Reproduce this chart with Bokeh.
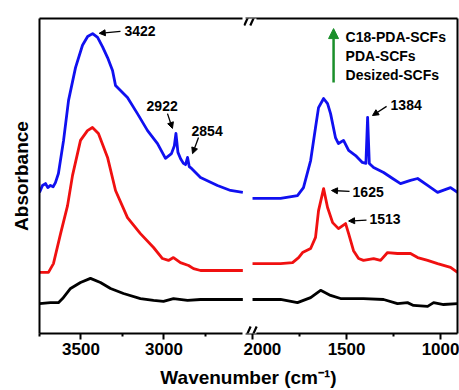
from bokeh.plotting import figure
from bokeh.layouts import row, column
from bokeh.models import Range1d, LinearAxis, FixedTicker, Label, Arrow, NormalHead, BoxAnnotation
from bokeh.embed import file_html
from bokeh.resources import INLINE

# ---------------- data (wavenumber in cm-1, absorbance in a.u., curves stacked) -------------
series_names = ["C18-PDA-SCFs", "PDA-SCFs", "Desized-SCFs"]
series_colors = ["#1010f0", "#f01010", "#000000"]

# high-wavenumber panel (3750 - 2500)
blue_left_wn = [3750, 3732, 3714, 3700, 3684, 3668, 3654, 3636, 3605, 3575, 3533, 3491, 3460,
                3430, 3400, 3370, 3340, 3310, 3292, 3220, 3160, 3099, 3039, 2991, 2955, 2938,
                2928, 2916, 2900, 2883, 2870, 2858, 2848, 2834, 2780, 2678, 2599, 2525]
blue_left = [44.8, 47.0, 47.6, 46.3, 47.0, 46.6, 47.9, 50.8, 61.3, 74.0, 84.4, 91.5, 94.3,
             95.2, 94.0, 91.0, 87.6, 83.5, 78.7, 74.9, 69.8, 64.4, 60.3, 55.6, 57.1, 59.5,
             63.5, 57.5, 55.5, 54.0, 53.6, 55.9, 53.0, 52.4, 49.5, 47.0, 45.4, 44.8]

red_left_wn = [3750, 3696, 3666, 3623, 3581, 3551, 3503, 3461, 3431, 3395, 3340, 3292, 3220,
               3142, 3063, 3009, 2973, 2943, 2901, 2852, 2822, 2780, 2700, 2600, 2525]
red_left = [19.4, 19.4, 22.2, 31.7, 40.6, 50.2, 61.3, 64.4, 65.4, 63.5, 55.9, 45.4, 36.8,
            31.7, 27.3, 23.8, 23.2, 24.1, 22.5, 21.6, 20.6, 20.0, 20.0, 20.0, 20.0]

black_left_wn = [3750, 3684, 3636, 3611, 3563, 3503, 3443, 3383, 3322, 3244, 3142, 3063, 3003,
                 2943, 2858, 2780, 2650, 2525]
black_left = [9.5, 9.8, 9.8, 11.1, 14.3, 16.2, 17.5, 16.2, 14.3, 12.7, 11.1, 10.5, 10.2,
              11.1, 10.5, 10.8, 10.8, 10.8]

# low-wavenumber panel (2000 - 910)
blue_right_wn = [2000, 1941, 1851, 1761, 1729, 1691, 1665, 1649, 1622, 1601, 1585, 1559, 1543,
                 1516, 1489, 1452, 1416, 1397, 1388, 1379, 1356, 1303, 1255, 1213, 1160, 1122,
                 1069, 1016, 947, 910]
blue_right = [42.9, 42.9, 42.9, 43.8, 46.3, 54.9, 65.4, 71.7, 74.6, 73.0, 69.8, 62.2, 60.3,
              61.3, 58.1, 56.5, 54.3, 54.0, 68.6, 54.0, 52.7, 51.1, 49.2, 47.6, 48.6, 49.2,
              47.0, 44.8, 46.3, 44.8]

red_right_wn = [2000, 1941, 1851, 1787, 1755, 1734, 1691, 1665, 1649, 1622, 1601, 1574, 1543,
                1505, 1489, 1463, 1436, 1410, 1356, 1319, 1282, 1229, 1160, 1122, 1069, 1016,
                947, 910]
red_right = [22.2, 22.2, 22.2, 22.5, 24.1, 25.7, 27.0, 30.5, 39.0, 46.0, 40.0, 35.2, 33.3,
             34.9, 31.7, 26.3, 23.8, 23.2, 23.8, 23.2, 25.7, 25.4, 25.4, 24.1, 23.2, 22.2,
             21.0, 19.4]

black_right_wn = [2000, 1851, 1761, 1691, 1638, 1585, 1532, 1410, 1303, 1229, 1176, 1144, 1069,
                  1037, 984, 910]
black_right = [10.8, 10.8, 9.8, 11.4, 13.7, 12.1, 11.1, 11.1, 10.8, 9.5, 9.8, 8.9, 8.6,
               9.8, 9.2, 9.5]

left_ticks = [3500, 3000]
left_minor = [3750, 3250, 2750]
right_ticks = [2000, 1500, 1000]
right_minor = [1750, 1250]
tick_labels = {3500: "3500", 3000: "3000", 2000: "2000", 1500: "1500", 1000: "1000"}

# peak annotations: text, panel, text x, text y, arrow start (x, y), arrow end (x, y)
peaks = [
    ("3422", "L", 3238, 96.0, (3262, 95.9), (3390, 95.3)),
    ("2922", "L", 3105, 72.1, (2979, 69.8), (2949, 65.1)),
    ("2854", "L", 2834, 64.4, (2792, 62.2), (2828, 57.1)),
    ("1384", "R", 1266, 72.4, (1287, 72.1), (1362, 69.2)),
    ("1625", "R", 1468, 44.8, (1484, 45.1), (1580, 45.4)),
    ("1513", "R", 1378, 36.2, (1394, 36.0), (1489, 35.7)),
]

FONT = "Liberation Sans"


def make_axis(ticks, minor, bounds=None, labels=True):
    ax = LinearAxis(ticker=FixedTicker(ticks=ticks, minor_ticks=minor))
    if bounds is not None:
        ax.bounds = bounds
    ax.axis_line_width = 2
    ax.axis_line_color = "black"
    ax.major_tick_line_width = 2
    ax.minor_tick_line_width = 2
    ax.major_tick_line_color = "black"
    ax.minor_tick_line_color = "black"
    ax.major_tick_in = 0
    ax.minor_tick_in = 0
    ax.major_tick_out = 6 if ticks else 0
    ax.minor_tick_out = 3 if minor else 0
    ax.major_label_text_font = FONT
    ax.major_label_text_font_style = "bold"
    ax.major_label_text_font_size = "17px" if labels else "0px"
    ax.major_label_text_color = "black"
    ax.major_label_standoff = 3 if labels else 0
    if labels and ticks:
        ax.major_label_overrides = {t: tick_labels[t] for t in ticks}
    return ax


common = dict(output_backend="svg", toolbar_location=None, x_axis_type=None, y_axis_type=None,
              outline_line_color=None, background_fill_color="white", border_fill_color="white")

# ---------------- left panel ----------------
L = figure(frame_width=204, frame_height=315, x_range=Range1d(3750, 2521), y_range=Range1d(0, 100),
           min_border_left=39, min_border_right=0, min_border_top=18, min_border_bottom=31, **common)
L.add_layout(make_axis(left_ticks, left_minor, bounds=(2530, 3750)), "below")
L.add_layout(make_axis([], [], bounds=(2530, 3750), labels=False), "above")
yax = make_axis([], [], labels=False)
yax.axis_label = "Absorbance"
yax.axis_label_text_font = FONT
yax.axis_label_text_font_style = "bold"
yax.axis_label_text_font_size = "19px"
yax.axis_label_text_color = "black"
yax.axis_label_standoff = 8
L.add_layout(yax, "left")

for wn, ab, c in [(blue_left_wn, blue_left, series_colors[0]),
                  (red_left_wn, red_left, series_colors[1]),
                  (black_left_wn, black_left, series_colors[2])]:
    L.line(wn, ab, line_color=c, line_width=2.8, line_join="round")

# ---------------- right panel ----------------
R = figure(frame_width=214, frame_height=315, x_range=Range1d(2048, 910), y_range=Range1d(0, 100),
           min_border_left=0, min_border_right=2, min_border_top=18, min_border_bottom=31, **common)
R.add_layout(make_axis(right_ticks, right_minor, bounds=(910, 2035)), "below")
R.add_layout(make_axis([], [], bounds=(910, 2035), labels=False), "above")
R.add_layout(make_axis([], [], labels=False), "right")

for wn, ab, c in [(blue_right_wn, blue_right, series_colors[0]),
                  (red_right_wn, red_right, series_colors[1]),
                  (black_right_wn, black_right, series_colors[2])]:
    R.line(wn, ab, line_color=c, line_width=2.8, line_join="round")

# axis break marks: white gap in the frame lines, then two slanted strokes
for yb, lo, hi in ((100, -1.8, 1.8), (0, -2.3, 1.8)):
    R.add_layout(BoxAnnotation(left=2042, right=1979, bottom=yb + lo, top=yb + hi,
                               fill_color="white", fill_alpha=1.0, line_color=None))
    for xc in (2027, 1995):
        R.add_layout(Arrow(x_start=xc + 17, y_start=yb - 2.2, x_end=xc - 17, y_end=yb + 2.2,
                           line_width=2.2, line_color="black", end=None))

# peak annotations
for txt, panel, tx, ty, (x0, y0), (x1, y1) in peaks:
    fig = L if panel == "L" else R
    fig.add_layout(Label(x=tx, y=ty, text=txt, text_align="left", text_baseline="middle",
                         text_font=FONT, text_font_style="bold", text_font_size="14px",
                         text_color="black"))
    fig.add_layout(Arrow(x_start=x0, y_start=y0, x_end=x1, y_end=y1, line_width=1.3,
                         line_color="black",
                         end=NormalHead(size=6, fill_color="black", line_color="black")))

# legend (arrow = stacking order)
R.add_layout(Arrow(x_start=1569, y_start=79.7, x_end=1569, y_end=96.8, line_width=2.5,
                   line_color="#1a8f2a",
                   end=NormalHead(size=10, fill_color="#1a8f2a", line_color="#1a8f2a")))
for i, name in enumerate(series_names):
    R.add_layout(Label(x=1505, y=94.0 - 6.0 * i, text=name, text_align="left",
                       text_baseline="middle", text_font=FONT, text_font_style="bold",
                       text_font_size="14px", text_color="black"))

# ---------------- x axis title strip ----------------
B = figure(frame_width=418, frame_height=26, x_range=Range1d(0, 1), y_range=Range1d(0, 1),
           min_border_left=39, min_border_right=2, min_border_top=0, min_border_bottom=0, **common)
B.add_layout(Label(x=0.5, y=0.5, text="Wavenumber (cm\u207b\u00b9)", text_align="center",
                   text_baseline="middle", text_font=FONT, text_font_style="bold",
                   text_font_size="19px", text_color="black"))

layout = column(row(L, R, spacing=0), B, spacing=0)
open("out.html", "w").write(file_html(layout, INLINE))
